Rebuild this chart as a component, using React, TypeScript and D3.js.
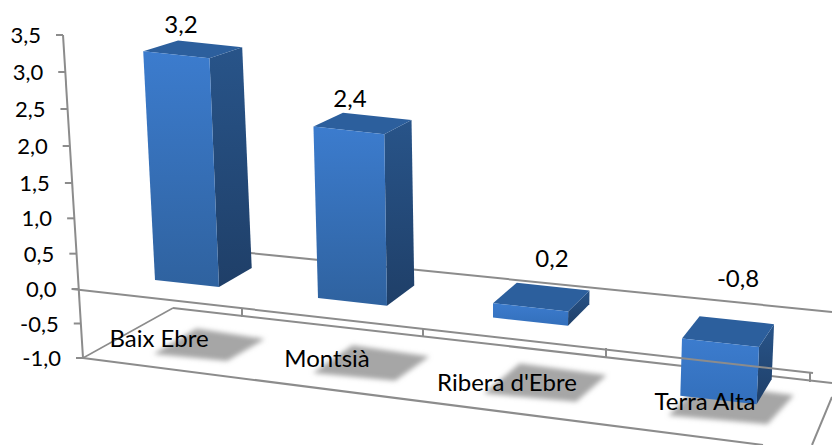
import React from "react";
import * as d3 from "d3";

const categories = ["Baix Ebre", "Montsià", "Ribera d'Ebre", "Terra Alta"];
const values = [3.2, 2.4, 0.2, -0.8];
const valueLabels = ["3,2", "2,4", "0,2", "-0,8"];
const ticks = [3.5, 3, 2.5, 2, 1.5, 1, 0.5, 0, -0.5, -1];

const W = 832, H = 445;
const FONT = "Lato, Carlito, 'Open Sans', sans-serif";
const AXIS = "#8c8c8c";

// layout scales (perspective of the 3-D plot)
const leftEdge = d3.scaleOrdinal<string, number>(categories, [155, 318, 493, 682]);
const rightEdge = d3.scaleOrdinal<string, number>(categories, [219, 387, 568, 759]);
const axisY = d3.scaleLinear().domain([-1, 0, 1.5, 3.5]).range([358, 289, 183, 35]);
const axisX = d3.scaleLinear().domain([-1, 3.5]).range([83, 63]);
const baseY = d3.scaleLinear().domain([155, 759]).range([280, 347]);
const unit = d3.scaleLinear().domain([0, 1]).range([0, 71.5]);
const depthX = d3.scaleLinear().domain([211, 761]).range([33, 15]);
const spread = 0.011;

type P = [number, number];
function project(x0: number, v: number, back: boolean): P {
  const x = x0 + (x0 - 490) * spread * v;
  const y = baseY(x0) - unit(v);
  if (!back) return [x, y];
  return [x + depthX(x0), y - 19 - (x0 - 211) * 0.007 + 2.5 * v];
}
const line = d3.line<P>();
const quad = (a: P, b: P, c: P, d: P) => line([a, b, c, d]) + "Z";

const labelPos: P[] = [[181, 25], [350, 99], [552, 259], [738, 279]];
const catPos: P[] = [[159, 339], [327, 359], [507, 383], [705, 402]];
const ytickLabelRight = d3.scaleLinear().domain([-1, 3.5]).range([61, 41]);
const floorTicks: P[] = [[242, 308], [423, 328], [606, 348], [810, 373]];

const Seg = ({ a, b, w = 2 }: { a: P; b: P; w?: number }) => (
  <line x1={a[0]} y1={a[1]} x2={b[0]} y2={b[1]} stroke={AXIS} strokeWidth={w} />
);

export default function App() {
  return (
    <svg width={W} height={H} viewBox={`0 0 ${W} ${H}`} style={{ position: "fixed", left: 0, top: 0, background: "#fff" }}>
      <defs>
        <linearGradient id="front" x1="0" y1="0" x2="0" y2="1">
          <stop offset="0" stopColor="#3c7cce" />
          <stop offset="1" stopColor="#2f629f" />
        </linearGradient>
        <linearGradient id="frontShort" x1="0" y1="0" x2="0" y2="1">
          <stop offset="0" stopColor="#3c7cce" />
          <stop offset="1" stopColor="#336fbb" />
        </linearGradient>
        <linearGradient id="side" x1="0" y1="0" x2="0" y2="1">
          <stop offset="0" stopColor="#285489" />
          <stop offset="1" stopColor="#1f3f68" />
        </linearGradient>
        <filter id="blur" x="-20%" y="-30%" width="140%" height="160%">
          <feGaussianBlur stdDeviation="2.5" />
        </filter>
      </defs>

      {/* floor */}
      <Seg a={[83, 358]} b={[173, 308]} w={1.5} />
      <Seg a={[173, 308]} b={[832, 383]} />
      <Seg a={[76, 358]} b={[83, 358]} />
      <Seg a={[83, 358]} b={[763, 445]} />
      <Seg a={[832, 397]} b={[812, 445]} />
      <Seg a={[250, 253]} b={[832, 312]} />

      {/* shadows */}
      {categories.map((c) => {
        const l = leftEdge(c), r = rightEdge(c);
        const s = 5 + (l - 155) * 0.012;
        const a = project(l, -1, false), b = project(r, -1, false);
        const cc = project(r, -1, true), d = project(l, -1, true);
        return (
          <path key={c} d={quad([a[0] - s, a[1] + s / 2], [b[0] + s, b[1] + s / 2], [cc[0] + s * 2, cc[1] + 2], [d[0] + 3, d[1] - 2])}
            fill="#a6a6a6" filter="url(#blur)" />
        );
      })}

      {/* y axis */}
      <Seg a={[axisX(3.5), axisY(3.5)]} b={[axisX(-1), axisY(-1)]} />
      {ticks.map((t) => (
        <g key={t}>
          <Seg a={[axisX(t) - 7, axisY(t)]} b={[axisX(t), axisY(t)]} />
          <text x={ytickLabelRight(t)} y={axisY(t) + 8} textAnchor="end" fontFamily={FONT} fontSize={22} fill="#000">
            {t.toFixed(1).replace(".", ",")}
          </text>
        </g>
      ))}

      {/* bars */}
      {categories.map((c, i) => {
        const v = values[i];
        const hi = Math.max(v, 0), lo = Math.min(v, 0);
        const l = leftEdge(c), r = rightEdge(c);
        const ftl = project(l, hi, false), ftr = project(r, hi, false);
        const fbl = project(l, lo, false), fbr = project(r, lo, false);
        const btl = project(l, hi, true), btr = project(r, hi, true);
        const bbr = project(r, lo, true);
        return (
          <g key={c}>
            <path d={quad(ftr, btr, bbr, fbr)} fill="url(#side)" />
            <path d={quad(ftl, btl, btr, ftr)} fill="#2c5f9d" />
            <path d={quad(ftl, ftr, fbr, fbl)} fill={Math.abs(v) < 1 ? "url(#frontShort)" : "url(#front)"} />
          </g>
        );
      })}

      {/* zero line and category ticks */}
      <Seg a={[72, 289]} b={[813, 373]} />
      {floorTicks.map((p, i) => (
        <Seg key={i} a={p} b={[p[0], p[1] + 9]} />
      ))}

      {/* labels */}
      {categories.map((c, i) => (
        <text key={c} x={catPos[i][0]} y={catPos[i][1] + 8} textAnchor="middle" fontFamily={FONT} fontSize={24} fill="#000">
          {c}
        </text>
      ))}
      {valueLabels.map((t, i) => (
        <text key={t} x={labelPos[i][0]} y={labelPos[i][1] + 8} textAnchor="middle" fontFamily={FONT} fontSize={24} fill="#000">
          {t}
        </text>
      ))}
    </svg>
  );
}
